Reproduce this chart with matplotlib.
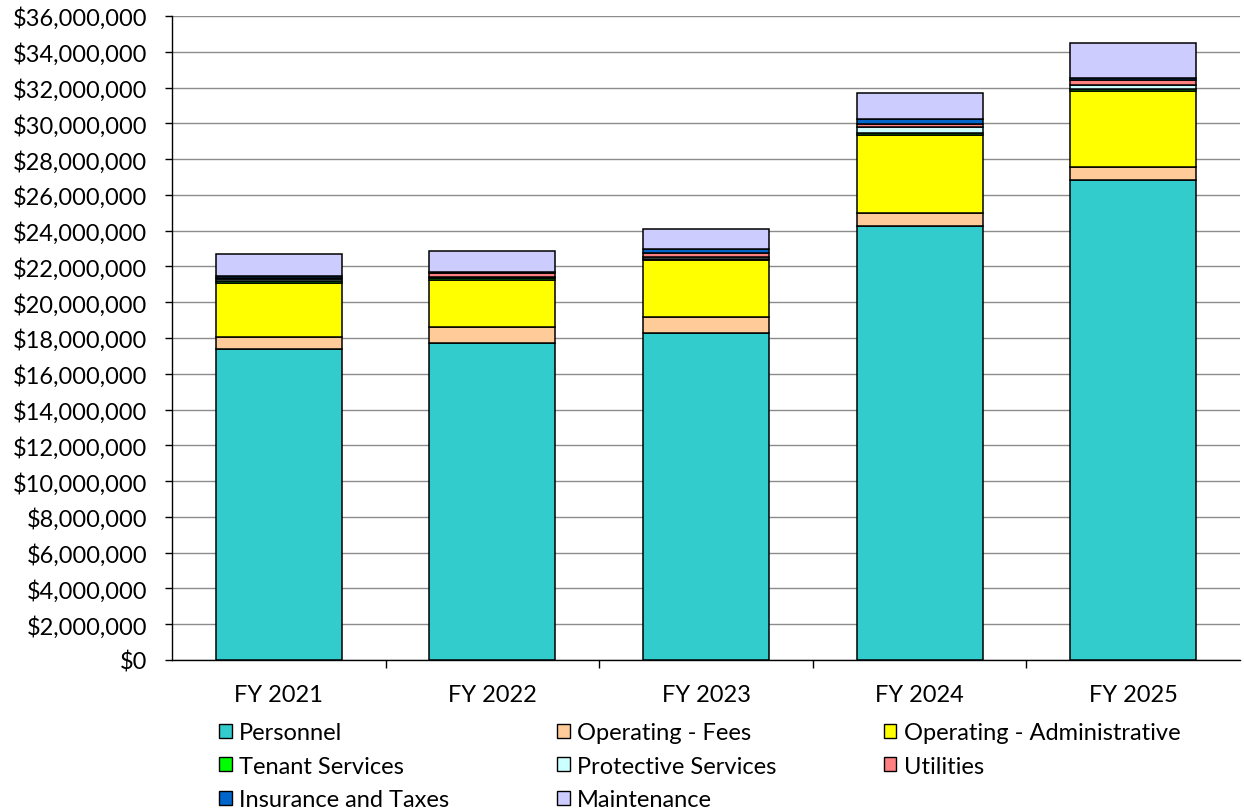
import matplotlib.pyplot as plt
from matplotlib.patches import Patch
from matplotlib.ticker import FuncFormatter, MultipleLocator, FixedLocator

plt.rcParams['font.family'] = ['Lato', 'DejaVu Sans']

years = ['FY 2021', 'FY 2022', 'FY 2023', 'FY 2024', 'FY 2025']

# Expense categories, in dollars, bottom of the stack first
personnel = [17380000, 17720000, 18260000, 24280000, 26850000]
operating_fees = [670000, 910000, 900000, 710000, 690000]
operating_admin = [3030000, 2620000, 3200000, 4370000, 4270000]
tenant_services = [100000, 80000, 70000, 120000, 130000]
protective_services = [100000, 100000, 100000, 310000, 200000]
utilities = [100000, 200000, 200000, 200000, 300000]
insurance_taxes = [100000, 40000, 250000, 280000, 120000]
maintenance = [1200000, 1190000, 1110000, 1410000, 1910000]

series = [
    ('Personnel', personnel, '#33CCCC'),
    ('Operating - Fees', operating_fees, '#FFCC99'),
    ('Operating - Administrative', operating_admin, '#FFFF00'),
    ('Tenant Services', tenant_services, '#00FF00'),
    ('Protective Services', protective_services, '#CCFFFF'),
    ('Utilities', utilities, '#FF8080'),
    ('Insurance and Taxes', insurance_taxes, '#0066CC'),
    ('Maintenance', maintenance, '#CCCCFF'),
]

fig = plt.figure(figsize=(12.44, 8.12), dpi=100)
ax = fig.add_axes([172 / 1244, 1 - 661 / 812, 1068 / 1244, 644 / 812])

x = range(len(years))
bottom = [0] * len(years)
for name, values, color in series:
    ax.bar(x, values, width=0.59, bottom=bottom, color=color,
           edgecolor='black', linewidth=1.1, zorder=3)
    bottom = [b + v for b, v in zip(bottom, values)]

ax.set_xlim(-0.5, len(years) - 0.5)
ax.set_ylim(0, 36000000)
ax.yaxis.set_major_locator(MultipleLocator(2000000))
ax.yaxis.set_major_formatter(FuncFormatter(lambda v, p: '${:,.0f}'.format(v)))
ax.grid(axis='y', color='#8c8c8c', linewidth=1.0, zorder=0)

ax.set_xticks(list(x))
ax.set_xticklabels(years)
ax.xaxis.set_minor_locator(FixedLocator([i + 0.5 for i in range(len(years) - 1)]))
ax.tick_params(axis='x', which='major', length=0, pad=17, labelsize=17)
ax.tick_params(axis='x', which='minor', length=6, width=1.0, direction='out')
ax.tick_params(axis='y', length=5, width=1.0, pad=13, labelsize=17)

for side in ('top', 'right'):
    ax.spines[side].set_visible(False)
for side in ('left', 'bottom'):
    ax.spines[side].set_linewidth(1.0)

# Legend reads across rows; matplotlib fills columns, so reorder the handles
handles = [Patch(facecolor=c, edgecolor='black', linewidth=1.0, label=n)
           for n, _, c in series]
order = [0, 3, 6, 1, 4, 7, 2, 5]
fig.legend([handles[i] for i in order], [handles[i].get_label() for i in order],
           loc='upper left', bbox_to_anchor=(219 / 1244, 1 - 723 / 812),
           ncol=3, frameon=False, fontsize=17, handlelength=0.55,
           handleheight=0.55, handletextpad=0.3, columnspacing=4.55,
           labelspacing=0.53, borderpad=0, borderaxespad=0)

fig.savefig('out.png', dpi=100)
